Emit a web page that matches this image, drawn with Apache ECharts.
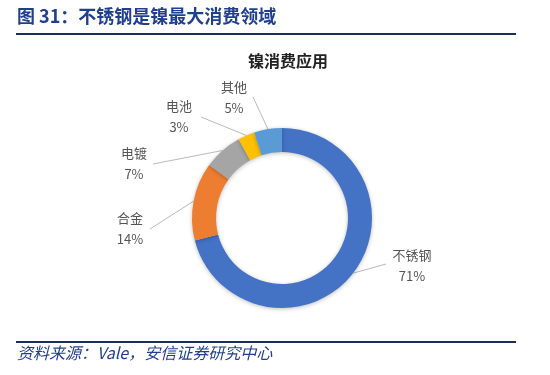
<!DOCTYPE html>
<html><head><meta charset="utf-8">
<script src="https://cdn.jsdelivr.net/npm/echarts@6/dist/echarts.min.js"></script>
<style>html,body{margin:0;padding:0;background:#fff}#c{width:550px;height:375px}</style>
</head><body><div id="c"></div>
<script>
const categories = ['不锈钢', '合金', '电镀', '电池', '其他'];
const values = [71, 14, 7, 3, 5];
const colors = ['#4472C4', '#ED7D31', '#A5A5A5', '#FFC000', '#5B9BD5'];
const headerText = '图 31：不锈钢是镍最大消费领域';
const chartTitle = '镍消费应用';
const sourceText = '资料来源：Vale，安信证券研究中心';
// label block centers and leader-line end points (layout only)
const labelPos = [[412, 266], [130, 229], [134, 164], [179, 117], [234, 98]];
const lineEnd = [[386, 264], [150, 229], [153, 164], [201, 117], [253, 97]];

const chart = echarts.init(document.getElementById('c'));
chart.setOption({
  backgroundColor: '#fff',
  animation: false,
  title: {
    text: chartTitle, left: 283, top: 48, textAlign: 'center',
    textStyle: {fontFamily: 'Noto Sans CJK SC', fontSize: 16, fontWeight: 'bold', color: '#222'}
  },
  graphic: [
    {type: 'text', left: 17, top: 7, style: {text: headerText, font: 'bold 18px "Noto Sans CJK SC"', fill: '#1F3F8F'}},
    {type: 'line', shape: {x1: 16, y1: 34, x2: 516, y2: 34}, style: {stroke: '#1B2F5E', lineWidth: 2}},
    {type: 'line', shape: {x1: 16, y1: 342, x2: 516, y2: 342}, style: {stroke: '#1B2F5E', lineWidth: 2}},
    {type: 'text', left: 17, top: 345, style: {text: sourceText, font: 'italic 16px "Noto Sans CJK SC"', fill: '#1F3F8F'}}
  ],
  series: [{
    type: 'pie',
    center: [282, 218],
    radius: [66, 90],
    startAngle: 90,
    clockwise: true,
    data: categories.map((n, i) => ({name: n, value: values[i], itemStyle: {color: colors[i]}})),
    itemStyle: {shadowBlur: 4, shadowColor: 'rgba(0,0,0,0.25)', shadowOffsetY: 1},
    label: {
      show: true, position: 'outside',
      formatter: p => p.name + '\n' + p.value + '%',
      fontFamily: 'Noto Sans CJK SC', fontSize: 13, color: '#555', lineHeight: 21, align: 'center'
    },
    labelLine: {show: true, length: 15, length2: 20, lineStyle: {color: '#bbb', width: 1}},
    labelLayout: function (p) {
      const i = p.dataIndex;
      const pos = labelPos[i];
      const start = p.labelLinePoints ? p.labelLinePoints[0] : lineEnd[i];
      return {
        x: pos[0], y: pos[1], align: 'center', verticalAlign: 'middle',
        labelLinePoints: [start, lineEnd[i], lineEnd[i]]
      };
    }
  }]
});
</script></body></html>
